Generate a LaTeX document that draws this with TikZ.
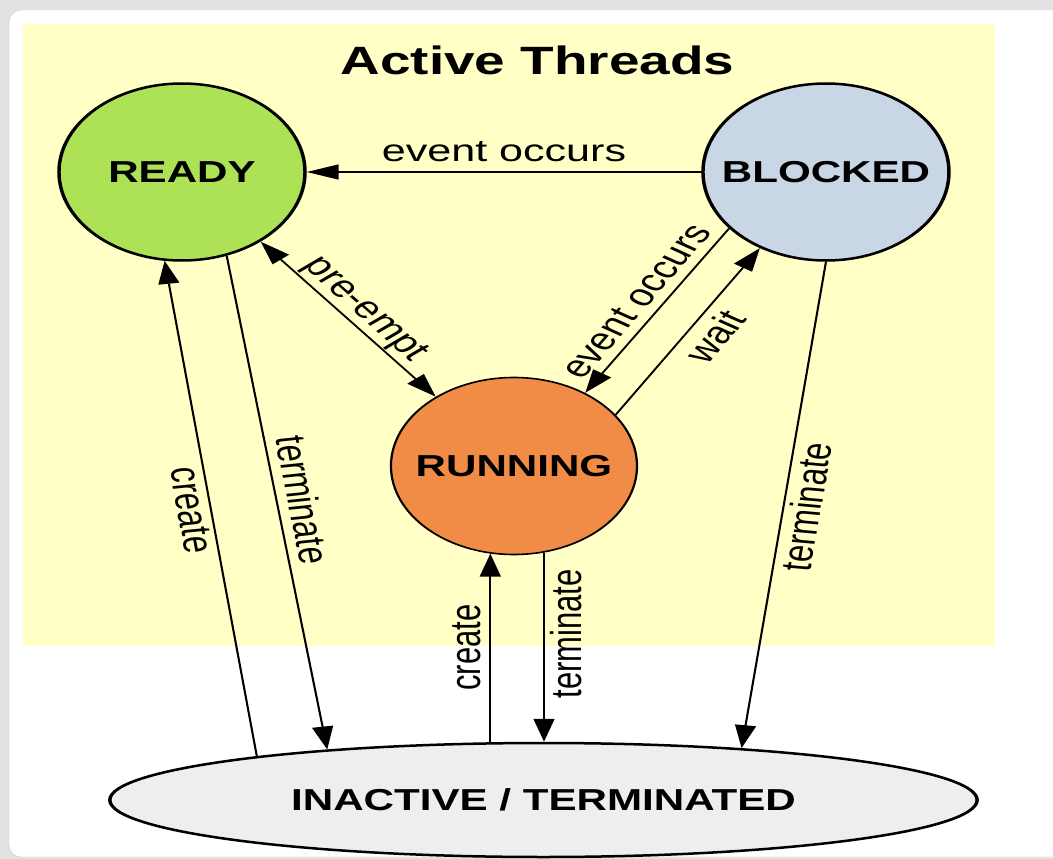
\documentclass[tikz,border=0pt]{standalone}
\usepackage{fontspec}
\setmainfont{Liberation Sans}
\usetikzlibrary{arrows.meta,shapes.geometric}
\definecolor{readygreen}{HTML}{AEE256}
\definecolor{blockedblue}{HTML}{C9D6E6}
\definecolor{runningorange}{HTML}{F08C46}
\definecolor{inactivegray}{HTML}{EEEEEE}
\definecolor{activeyellow}{HTML}{FFFFC6}
\definecolor{framegray}{HTML}{E2E2E2}

\begin{document}
\begin{tikzpicture}[x=1pt,y=-1pt,>={Triangle[length=23pt,width=15pt]}]
   \tikzset{state/.style 2 args={draw, circle, fill=#1, line width=#2, minimum size=177pt, inner sep=0pt, font=\bfseries\fontsize{30.3}{30.3}\selectfont}};
   \tikzset{flow/.style={line width=1.5pt, ->}};
   \tikzset{lbl/.style={font=\fontsize{31}{31}\selectfont, inner sep=1pt}};

\useasboundingbox (0,0) rectangle (1053,859);
\fill[framegray] (0,0) rectangle (1053,859);
\draw[fill=white, draw=gray!45, rounded corners=12pt] (9,10) rectangle (1080,857);
\fill[activeyellow] (23,24) rectangle (995,646);

% drawn narrow, then stretched sideways like the original
\begin{scope}[x=0.7194pt, transform canvas={xscale=1.39}]

\node[font=\bfseries\fontsize{39.5}{39.5}\selectfont, anchor=base] (title) at (537.5,75) {Active Threads};

\node[state={readygreen}{2.5pt}] (ready) at (182,172) {READY};
\node[state={blockedblue}{2.5pt}] (blocked) at (826,172) {BLOCKED};
\node[state={runningorange}{1.6pt}] (running) at (514,466) {RUNNING};
\node[draw, ellipse, fill=inactivegray, line width=2.5pt, minimum width=624pt, minimum height=114pt, inner sep=0pt, font=\bfseries\fontsize{30.3}{30.3}\selectfont] (inactive) at (543.5,800) {INACTIVE / TERMINATED};

\draw[flow] (blocked) -- node[lbl, above=8pt] {event occurs} (ready);
\draw[flow, <->] (ready) -- node[lbl, sloped, above] {pre-empt} (running);
\draw[flow] (blocked.-141.3) -- node[lbl, sloped, above=6pt] {event occurs} (running.55.4);
\draw[flow] (running.35.3) -- node[lbl, pos=0.53, sloped, below=6pt] {wait} (blocked.-122.1);

\draw[flow] (inactive.168) -- node[lbl, sloped, below=2pt] {create} (ready.-98.1);
\draw[flow] (ready.-69.4) -- node[lbl, sloped, above=6pt] {terminate} (inactive.162);
\draw[flow] (running.-101.3 |- inactive.north) -- node[lbl, rotate=90, above=5pt] {create} (running.-101.3);
\draw[flow] (running.-76.4) -- node[lbl, pos=0.43, rotate=90, below=3pt] {terminate} (running.-76.4 |- inactive.north);
\draw[flow] (blocked.-90.9) -- node[lbl, sloped, below=3pt] {terminate} (inactive.20.7);

\end{scope}
\end{tikzpicture}
\end{document}
